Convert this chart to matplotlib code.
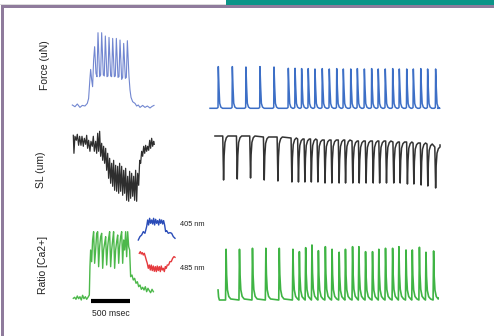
import numpy as np
import matplotlib.pyplot as plt
from matplotlib.patches import Rectangle

plt.rcParams['font.family'] = ['Liberation Sans', 'DejaVu Sans']

W, H = 494, 336  # figure size in pixels

###################################################
# left panels: single twitch/tetanus recordings (time in msec)

force_t = [0, 34, 64, 98, 128, 162, 192, 209, 226, 235, 248, 260, 273, 286, 303, 316,
           329, 350, 363, 376, 397, 410, 423, 444, 457, 470, 491, 504, 517, 538, 551,
           564, 585, 598, 611, 632, 645, 658, 679, 692, 705, 726, 739, 752, 773, 803,
           824, 845, 867, 901, 931, 961, 995, 1021, 1046]
force_v = [1.7, 0, 2.7, -0.7, 1.3, 0.7, 3.3, 8.3, 28.3, 37.3, 26.7, 20, 46.7, 60, 33.3, 30,
           74, 30, 31.7, 74, 31.7, 30.7, 70.7, 30, 30.7, 69.3, 30.7, 30, 68.3, 30, 30.7,
           68.3, 29.3, 30, 66.7, 27.3, 29.3, 63.3, 28.3, 29.3, 66, 30, 16.7, 9.3, 5, 3.3,
           0.7, 1.7, -0.7, 1.3, -0.7, 0.7, -1.3, 0.3, 1.3]

sl_t = [13, 21, 34, 51, 64, 81, 94, 111, 124, 141, 154, 171, 184, 196, 209, 226, 239,
        256, 269, 282, 299, 312, 325, 337, 350, 363, 376, 389, 401, 414, 427, 440, 453,
        465, 478, 491, 504, 517, 529, 542, 555, 568, 581, 594, 606, 619, 632, 645, 658,
        670, 683, 696, 709, 722, 734, 747, 760, 773, 786, 798, 811, 824, 837, 850, 863,
        875, 888, 901, 914, 927, 939, 952, 965, 978, 991, 1003, 1016, 1029, 1042, 1050]
sl_v = [68, 50, 67, 63, 69, 58, 67, 58, 67, 57, 65, 59, 68, 55, 63, 52, 62, 57, 67, 52,
        62, 50, 70, 52, 72, 47, 60, 43, 57, 40, 55, 33, 50, 25, 45, 20, 40, 17, 43, 13,
        38, 12, 37, 10, 40, 12, 37, 8, 33, 10, 35, 3, 27, 2, 32, 5, 30, 7, 27, 3, 33, 2,
        30, 18, 43, 40, 52, 47, 57, 50, 58, 52, 57, 53, 63, 55, 65, 57, 62, 59]

ratio_t = [13, 30, 47, 64, 81, 98, 115, 132, 149, 167, 184, 201, 218, 226, 235, 248, 260,
           273, 286, 299, 312, 325, 337, 350, 363, 376, 389, 401, 414, 427, 440, 453,
           465, 478, 491, 504, 517, 529, 542, 555, 568, 581, 594, 606, 619, 632, 645,
           658, 670, 683, 696, 709, 722, 734, 747, 764, 781, 798, 816, 833, 850, 867,
           884, 901, 918, 935, 952, 969, 986, 1003, 1021, 1038]
ratio_v = [1.7, 2.7, 0.7, 4, 1.3, 3.3, 0, 4.7, 1.3, 3.3, 0.7, 2.7, 5, 33.3, 50, 38.3, 60,
           68.3, 36.7, 50, 66.7, 68.3, 33.3, 53.3, 63.3, 66.7, 31.7, 50, 56.7, 63.3, 35,
           53.3, 61.7, 68.3, 33.3, 50, 60, 68.3, 31.7, 50, 58.3, 65, 36.7, 53.3, 63.3,
           68.3, 36.7, 60, 50, 68.3, 43.3, 68.3, 53.3, 50, 23.3, 25, 20, 21.7, 16.7, 18.3,
           13.3, 15, 10.7, 12.7, 10, 13.3, 8.3, 11.7, 9.3, 7.3, 10.7, 8.3]

# single wavelength insets
f405_t = [0, 21, 43, 64, 85, 107, 120, 132, 145, 158, 171, 184, 196, 209, 222, 235, 248,
          261, 273, 286, 299, 312, 324, 337, 350, 363, 384, 406, 427, 448, 470]
f405_v = [3.3, 6.7, 8.3, 11.7, 10, 16.7, 23.3, 18.3, 25, 20, 23.3, 19.3, 25, 18.3, 24, 20,
          22.7, 18.3, 24, 20, 23.3, 19.3, 22.7, 18.3, 11.7, 12.7, 10, 10.7, 10, 6.7, 5]
f485_t = [13, 26, 38, 51, 64, 77, 90, 102, 115, 128, 141, 154, 166, 179, 192, 205, 218,
          231, 243, 256, 269, 282, 294, 307, 320, 333, 346, 358, 371, 388, 405, 422, 440,
          457, 470]
f485_v = [20, 21.7, 19.3, 20.7, 18.3, 20, 16.7, 13.3, 10, 5, 8.3, 3.3, 8.3, 2.7, 7.3, 2,
          6.7, 1.7, 7.3, 2.7, 6.7, 1.7, 7.3, 3.3, 5, 1.7, 6.7, 5, 8.3, 8.3, 11.7, 11.7,
          15, 16.7, 16]

scale_bar_ms = [239, 739]

###################################################
# right panels: paced train, 1 Hz then 2 Hz (time in s)

beat_t = [0, 1.0, 1.97, 2.97, 3.97, 4.99, 5.47, 5.94, 6.41, 6.89, 7.41, 7.91, 8.44, 8.91,
          9.44, 9.91, 10.41, 10.93, 11.40, 11.90, 12.43, 12.90, 13.43, 13.90, 14.43,
          14.92, 15.49]
force_amp = [41.7, 41.7, 41.3, 41.7, 41.3, 40, 40, 39.7, 39.7, 39.3, 39.7, 39.3, 39.7,
             39.3, 39.3, 39.7, 39.3, 39.7, 39.3, 39.3, 39.7, 39.3, 39.3, 39.3, 39.7,
             39.3, 39.3]
sl_top = [64, 64, 64, 63, 63, 62, 61, 61, 61, 60, 60, 60, 60, 60, 59, 59, 59, 59, 59, 59,
          58, 58, 58, 57, 57, 56, 53]
sl_trough = [20, 21, 22, 20, 19, 18, 18, 18, 18, 18, 17, 17, 17, 17, 17, 17, 17, 17, 17,
             17, 17, 17, 16, 16, 15, 14, 12]
ratio_amp = [50.7, 50.7, 51.7, 51.7, 51.7, 50.7, 48.3, 52.3, 55, 49.3, 53.3, 50.7, 47.7,
             50.7, 53.3, 53.3, 48.3, 48.3, 50.7, 51.7, 51.7, 53.3, 50, 50, 52.7, 47.7, 49]

###################################################

fig = plt.figure(figsize=(W / 100, H / 100), dpi=100)
fig.patch.set_facecolor('white')


def px_axes(x0, y0, x1, y1):
    ax = fig.add_axes([x0 / W, 1 - y1 / H, (x1 - x0) / W, (y1 - y0) / H])
    ax.axis('off')
    return ax


def px_text(x, y, s, **kw):
    fig.text(x / W, 1 - y / H, s, **kw)


# frame decoration
fig.patches.append(Rectangle((226 / W, 1 - 5.5 / H), 1, 5.5 / H, transform=fig.transFigure,
                             color='#0b9488', lw=0))
fig.patches.append(Rectangle((0, 1 - 5 / H), 226 / W, 1.2 / H, transform=fig.transFigure,
                             color='#dcdcdc', lw=0))
fig.patches.append(Rectangle((1 / W, 1 - 7.5 / H), 1, 2.2 / H, transform=fig.transFigure,
                             color='#8f7b9c', lw=0))
fig.patches.append(Rectangle((1 / W, 0), 2.5 / W, 1 - 5.5 / H, transform=fig.transFigure,
                             color='#8f7b9c', lw=0))

# left column
ax = px_axes(72.3, 30, 154.3, 110)
ax.plot(force_t, force_v, color='#7186d0', lw=0.8, clip_on=False)
ax.set_xlim(0, 1050)
ax.set_ylim(-3.3, 76.7)

ax = px_axes(72.3, 125, 154.3, 210)
ax.plot(sl_t, sl_v, color='#2e2e2e', lw=0.9, clip_on=False)
ax.set_xlim(0, 1050)
ax.set_ylim(-6.7, 78.3)

ax = px_axes(72.3, 225, 154.3, 305)
ax.plot(ratio_t, ratio_v, color='#4cb84a', lw=1.0, clip_on=False)
ax.plot(scale_bar_ms, [-0.7, -0.7], color='black', lw=3.0, solid_capstyle='butt',
        clip_on=False)
ax.text(np.mean(scale_bar_ms), -13, '500 msec', ha='center', va='center', fontsize=6.2,
        color='#222222')
ax.set_xlim(0, 1050)
ax.set_ylim(-5, 75)

ax = px_axes(138.3, 215, 180, 245)
ax.plot(f405_t, f405_v, color='#2a4cb8', lw=1.0, clip_on=False)
ax.set_xlim(0, 534)
ax.set_ylim(-1.7, 28.3)

ax = px_axes(138.3, 245, 180, 275)
ax.plot(f485_t, f485_v, color='#e53a3e', lw=1.0, clip_on=False)
ax.set_xlim(0, 534)
ax.set_ylim(-1.7, 28.3)

px_text(180, 225, '405 nm', ha='left', va='center', fontsize=5.3, color='#222222')
px_text(180, 269, '485 nm', ha='left', va='center', fontsize=5.3, color='#222222')

px_text(45, 65, 'Force (uN)', ha='center', va='center', rotation=90, fontsize=7.5,
        color='#222222')
px_text(41, 170, 'SL (um)', ha='center', va='center', rotation=90, fontsize=7.5,
        color='#222222')
px_text(43, 265, 'Ratio [Ca2+]', ha='center', va='center', rotation=90, fontsize=7.5,
        color='#222222')

# right column: build traces beat by beat
ft, fv = [-0.59], [0.0]
for t, a in zip(beat_t, force_amp):
    for dt, k in zip([-0.1, -0.02, 0.0, 0.05, 0.1, 0.18, 0.3],
                     [0, 0.02, 1.0, 0.5, 0.12, 0.03, 0]):
        ft.append(t + dt)
        fv.append(a * k)
ft.append(15.64)
fv.append(0.0)

st, sv = [-0.61], [sl_top[0]]
for t, top, lo in zip(beat_t, sl_top, sl_trough):
    d = top - lo
    for dt, k in zip([-0.04, 0.02, 0.06, 0.12, 0.22, 0.34],
                     [0, -1.0, -0.45, -0.15, -0.04, 0]):
        st.append(t + dt)
        sv.append(top + d * k)
st.append(15.83)
sv.append(sl_top[-1] + 2)

rt, rv = [-0.6, -0.56, -0.5], [10.0, 3.0, 0.0]
for t, a in zip(beat_t, ratio_amp):
    for dt, k in zip([-0.04, 0.0, 0.04, 0.1, 0.2, 0.35],
                     [0, 1.0, 0.5, 0.2, 0.07, 0.02]):
        rt.append(t + dt)
        rv.append(a * k)
rt.append(15.82)
rv.append(2.0)

ax = px_axes(205, 60, 445, 112)
ax.plot(ft, fv, color='#3d6fc6', lw=1.1, clip_on=False)
ax.set_xlim(-0.948, 16.158)
ax.set_ylim(-3.7, 48.3)

ax = px_axes(205, 130, 445, 192)
ax.plot(st, sv, color='#333333', lw=1.1, clip_on=False)
ax.set_xlim(-1.337, 16.194)
ax.set_ylim(8, 70)

ax = px_axes(205, 240, 445, 305)
ax.plot(rt, rv, color='#3fb444', lw=1.2, clip_on=False)
ax.set_xlim(-1.574, 16.34)
ax.set_ylim(-5, 60)

fig.savefig('out.png', dpi=100)
